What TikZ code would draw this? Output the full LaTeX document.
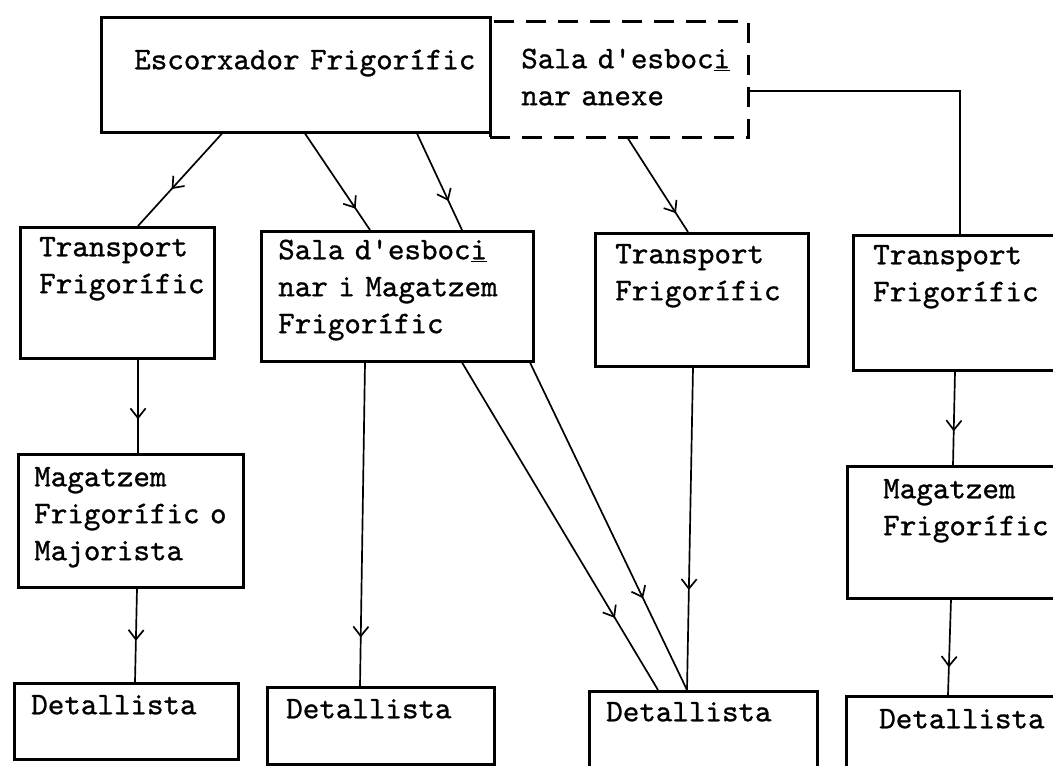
\documentclass[tikz,border=0pt]{standalone}
\usepackage{fontspec}
\newfontfamily\maquina{lmmono10-regular.otf}[FakeBold=0.9]
\usepackage{tikz}
\usetikzlibrary{arrows.meta}
\usetikzlibrary{decorations.markings}
\tikzset{caixa/.style={draw, line width=1.8pt, anchor=north west, inner xsep=0pt, inner ysep=0pt, font=\maquina\fontsize{22.4}{26.3}\selectfont}}
\tikzset{sagnat/.style={execute at begin node={\leftskip=#1}}}
\tikzset{linia/.style={line width=1.2pt}}
\tikzset{fletxa/.style={linia, postaction={decorate}, decoration={markings, mark=at position #1 with {\arrow{Straight Barb[length=2.4mm,width=3.8mm]}}}}}

\begin{document}
\begin{tikzpicture}
\useasboundingbox (0,0) rectangle (26.325,19.15);
\clip (0,0) rectangle (26.325,19.15);
\node[caixa, text width=9.725cm, text height=1.3cm, text depth=1.575cm, sagnat=0.825cm] (escorxador) at (2.5,18.75) {Escorxador Frigorífic};
\node[caixa, dash pattern=on 0.5cm off 0.3cm, text width=6.45cm, text height=1.175cm, text depth=1.725cm, sagnat=0.775cm] (annex) at (12.225,18.65) {Sala d'esboc\underline{i}\\nar anexe};
\node[caixa, text width=4.85cm, text height=0.725cm, text depth=2.55cm, sagnat=0.475cm] (tr1) at (0.475,13.5) {Transport\\Frigorífic};
\node[caixa, text width=6.8cm, text height=0.7cm, text depth=2.55cm, sagnat=0.425cm] (sala) at (6.5,13.4) {Sala d'esboc\underline{i}\\nar i Magatzem\\Frigorífic};
\node[caixa, text width=5.325cm, text height=0.75cm, text depth=2.575cm, sagnat=0.5cm] (tr3) at (14.85,13.35) {Transport\\Frigorífic};
\node[caixa, text width=6.25cm, text height=0.725cm, text depth=2.65cm, sagnat=0.5cm] (tr4) at (21.3,13.3) {Transport\\Frigorífic};
\node[caixa, text width=5.625cm, text height=0.8cm, text depth=2.525cm, sagnat=0.4cm] (mag1) at (0.425,7.825) {Magatzem\\Frigorífic o\\Majorista};
\node[caixa, text width=6.25cm, text height=0.8cm, text depth=2.5cm, sagnat=0.9cm] (mag4) at (21.15,7.525) {Magatzem\\Frigorífic};
\node[caixa, text width=5.6cm, text height=0.775cm, text depth=1.125cm, sagnat=0.425cm] (det1) at (0.325,2.1) {Detallista};
\node[caixa, text width=5.675cm, text height=0.775cm, text depth=1.15cm, sagnat=0.475cm] (det2) at (6.65,2.0) {Detallista};
\node[caixa, text width=5.7cm, text height=0.75cm, text depth=1.35cm, sagnat=0.425cm] (det3) at (14.7,1.9) {Detallista};
\node[caixa, text width=6.25cm, text height=0.8cm, text depth=1.3cm, sagnat=0.825cm] (det4) at (21.125,1.775) {Detallista};
% de l'escorxador
\draw[fletxa=0.6] ([xshift=3.05cm]escorxador.south west) -- ([xshift=2.975cm]tr1.north west);
\draw[fletxa=0.78] ([xshift=5.125cm]escorxador.south west) -- ([xshift=2.75cm]sala.north west);
\draw[fletxa=0.7] ([xshift=7.925cm]escorxador.south west) -- ([xshift=5.05cm]sala.north west);
\draw[fletxa=0.8] ([xshift=3.475cm]annex.south west) -- ([xshift=2.35cm]tr3.north west);
\draw[linia] ([yshift=-1.775cm]annex.north east) -| ([xshift=2.7cm]tr4.north west);
% cap als detallistes
\draw[fletxa=0.64] ([xshift=2.975cm]tr1.south west) -- ([xshift=3.025cm]mag1.north west);
\draw[fletxa=0.56] ([xshift=3cm]mag1.south west) -- ([xshift=3.05cm]det1.north west);
\draw[fletxa=0.85] ([xshift=2.625cm]sala.south west) -- ([xshift=2.35cm]det2.north west);
\draw[fletxa=0.78] ([xshift=5.05cm]sala.south west) -- ([xshift=1.75cm]det3.north west);
\draw[fletxa=0.72] ([xshift=6.75cm]sala.south west) -- ([xshift=2.475cm]det3.north west);
\draw[fletxa=0.69] ([xshift=2.475cm]tr3.south west) -- ([xshift=2.475cm]det3.north west);
\draw[fletxa=0.64] ([xshift=2.575cm]tr4.south west) -- ([xshift=2.675cm]mag4.north west);
\draw[fletxa=0.71] ([xshift=2.625cm]mag4.south west) -- ([xshift=2.575cm]det4.north west);
\end{tikzpicture}
\end{document}
